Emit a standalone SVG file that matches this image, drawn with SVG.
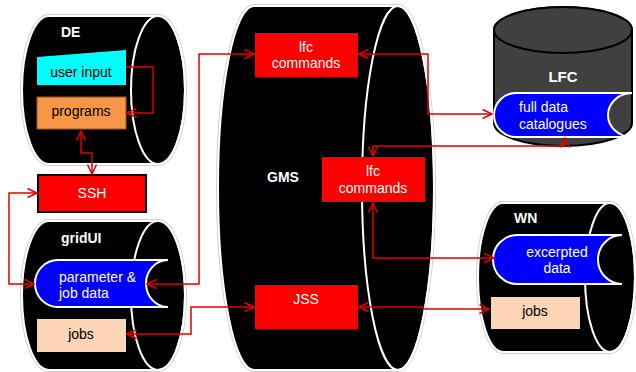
<svg xmlns="http://www.w3.org/2000/svg" width="636" height="372" viewBox="0 0 636 372">
<style>
.halo{fill:none;stroke:#d0d0d0;stroke-width:4}
.cyl{fill:#000;stroke:#fff;stroke-width:2}
.rim{fill:none;stroke:#fff;stroke-width:2}
.ttl{font-family:"Liberation Sans",Arial,sans-serif;font-weight:bold;font-size:14px;fill:#fff}
.t{font-family:"Liberation Sans",Arial,sans-serif;font-size:14px}
.w{fill:#fff}
.k{fill:#000}
.blob{fill:#0000ff;stroke:#fff;stroke-width:2}
.red{fill:#ff0000}
.jobs{fill:#fbd5b5}
.con{fill:none;stroke:#e00000;stroke-width:1.5}
</style>
<defs>
<marker id="ah" viewBox="0 0 10 10" markerWidth="10" markerHeight="10" markerUnits="userSpaceOnUse" refX="9.5" refY="5" orient="auto-start-reverse" overflow="visible">
<path d="M0,0.5 L9.5,5 L0,9.5" fill="none" stroke="#e00000" stroke-width="1.5"/>
</marker>
</defs>

<g id="DE">
<path class="halo" d="M49,16 H158 A27,74 0 0 1 158,164 H49 A27,74 0 0 1 49,16 Z"/>
<path class="cyl" d="M49,16 H158 A27,74 0 0 1 158,164 H49 A27,74 0 0 1 49,16 Z"/>
<ellipse class="rim" cx="158" cy="90" rx="27" ry="74"/>
<text class="ttl" x="61" y="37">DE</text>
</g>
<g id="user_input">
<path d="M37,57 L126,50 L126,85 L37,85 Z" fill="#00ffff"/>
<text class="t k" x="81" y="77" text-anchor="middle">user input</text>
</g>
<g id="programs">
<rect x="37" y="97" width="89" height="32" fill="#f79646" stroke="#a0582a" stroke-width="1"/>
<text class="t k" x="81" y="116" text-anchor="middle">programs</text>
</g>

<g id="SSH">
<rect x="38" y="175" width="108" height="37" fill="#ff0000" stroke="#000" stroke-width="2"/>
<text class="t w" x="92" y="198" text-anchor="middle">SSH</text>
</g>

<g id="gridUI">
<path class="halo" d="M49,221 H158 A27,74.5 0 0 1 158,370 H49 A27,74.5 0 0 1 49,221 Z"/>
<path class="cyl" d="M49,221 H158 A27,74.5 0 0 1 158,370 H49 A27,74.5 0 0 1 49,221 Z"/>
<ellipse class="rim" cx="158" cy="295.5" rx="27" ry="74.5"/>
<text class="ttl" x="61" y="243">gridUI</text>
</g>
<g id="param_job_data">
<path class="blob" d="M58,260 H168 A22,23.5 0 0 0 168,307 H58 A23,23.5 0 0 1 58,260 Z"/>
<text class="t w" x="59" y="282">parameter &amp;</text>
<text class="t w" x="59" y="298">job data</text>
</g>
<g id="gridUI_jobs">
<rect class="jobs" x="37" y="319" width="89" height="33"/>
<text class="t k" x="81" y="339" text-anchor="middle">jobs</text>
</g>

<g id="GMS">
<path class="halo" d="M254,6 H398 A36,182 0 0 1 398,370 H254 A36,182 0 0 1 254,6 Z"/>
<path class="cyl" d="M254,6 H398 A36,182 0 0 1 398,370 H254 A36,182 0 0 1 254,6 Z"/>
<ellipse class="rim" cx="398" cy="188" rx="36" ry="182"/>
<text class="ttl" x="283" y="182" text-anchor="middle">GMS</text>
</g>
<g id="lfc_commands_top">
<rect class="red" x="255" y="33" width="103" height="44"/>
<text class="t w" x="306" y="52" text-anchor="middle">lfc</text>
<text class="t w" x="306" y="68" text-anchor="middle">commands</text>
</g>
<g id="lfc_commands_mid">
<rect class="red" x="322" y="157" width="103" height="45"/>
<text class="t w" x="373" y="176" text-anchor="middle">lfc</text>
<text class="t w" x="373" y="193" text-anchor="middle">commands</text>
</g>
<g id="JSS">
<rect class="red" x="255" y="285" width="103" height="44"/>
<text class="t w" x="306" y="304" text-anchor="middle">JSS</text>
</g>

<g id="LFC">
<path d="M494,30 V123 A69,23 0 0 0 632,123 V30 A69,23 0 0 0 494,30 Z" fill="#404040" stroke="#000" stroke-width="2"/>
<ellipse cx="563" cy="30" rx="69" ry="23" fill="#404040" stroke="#000" stroke-width="2"/>
<text class="ttl" x="563" y="82" text-anchor="middle" style="font-size:15px">LFC</text>
</g>
<g id="full_data_catalogues">
<path class="blob" d="M516,93 H632 A24,22 0 0 0 632,137 H516 A22,22 0 0 1 516,93 Z"/>
<text class="t w" x="519" y="112">full data</text>
<text class="t w" x="519" y="129">catalogues</text>
</g>

<g id="WN">
<path class="halo" d="M503,203 H610 A25,74.5 0 0 1 610,352 H503 A25,74.5 0 0 1 503,203 Z"/>
<path class="cyl" d="M503,203 H610 A25,74.5 0 0 1 610,352 H503 A25,74.5 0 0 1 503,203 Z"/>
<ellipse class="rim" cx="610" cy="277.5" rx="25" ry="74.5"/>
<text class="ttl" x="514" y="223">WN</text>
</g>
<g id="excerpted_data">
<path class="blob" d="M517,235 H622 A24,24.5 0 0 0 622,284 H517 A24,24.5 0 0 1 517,235 Z"/>
<text class="t w" x="557" y="257" text-anchor="middle">excerpted</text>
<text class="t w" x="557" y="273" text-anchor="middle">data</text>
</g>
<g id="WN_jobs">
<rect class="jobs" x="491" y="297" width="89" height="32"/>
<text class="t k" x="535" y="316" text-anchor="middle">jobs</text>
</g>

<g id="connectors">
<path class="con" d="M126,67 H153 V113 H127" marker-end="url(#ah)"/>
<path class="con" d="M81,131 V153 H92 V174" marker-start="url(#ah)" marker-end="url(#ah)"/>
<path class="con" d="M37,193 H9 V284 H34" marker-start="url(#ah)" marker-end="url(#ah)"/>
<path class="con" d="M147,284 H199 V54 H254" marker-start="url(#ah)" marker-end="url(#ah)"/>
<path class="con" d="M127,334 H191 V307 H254" marker-start="url(#ah)" marker-end="url(#ah)"/>
<path class="con" d="M359,54 H428 V114 H492" marker-start="url(#ah)" marker-end="url(#ah)"/>
<path class="con" d="M373,156 V146 H565 V138" marker-start="url(#ah)" marker-end="url(#ah)"/>
<path class="con" d="M373,203 V258 H494" marker-start="url(#ah)" marker-end="url(#ah)"/>
<path class="con" d="M359,307 H423 V309 H489" marker-start="url(#ah)" marker-end="url(#ah)"/>
</g>
</svg>
